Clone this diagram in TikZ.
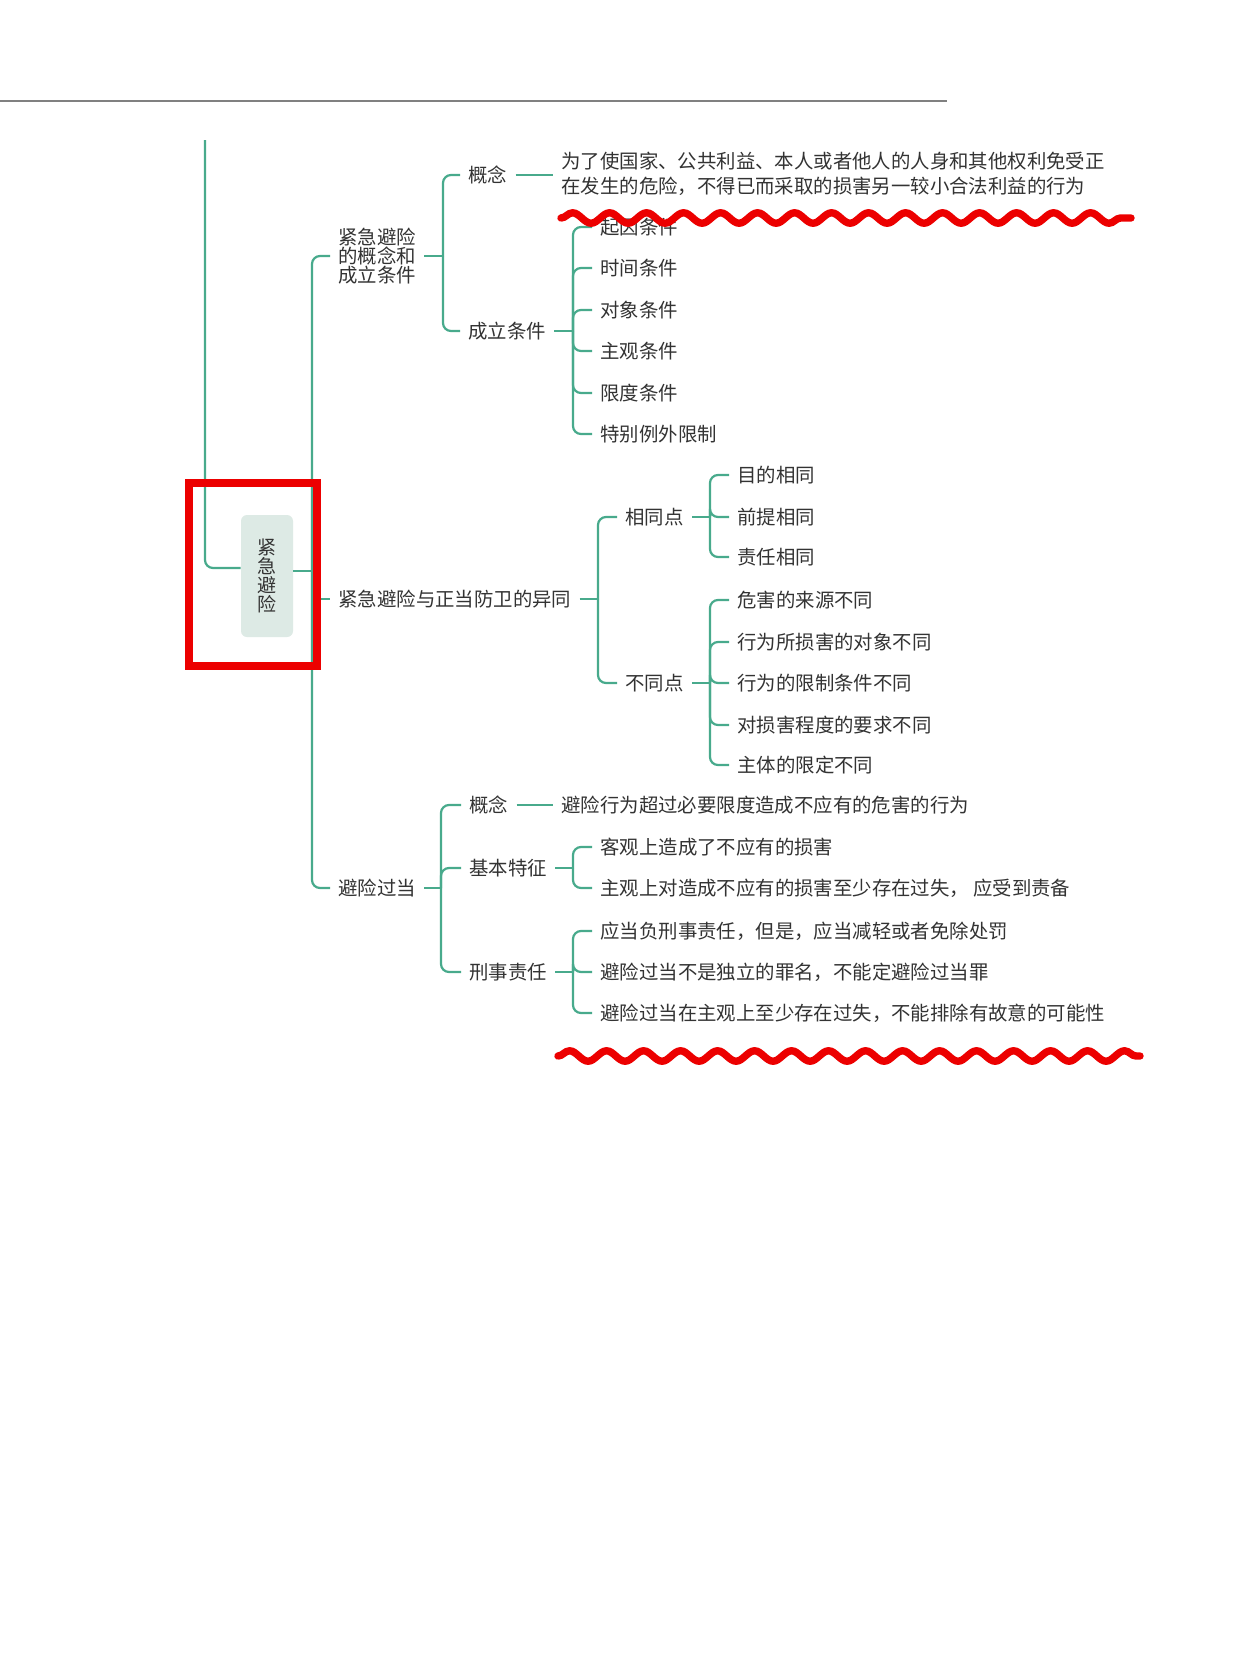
\documentclass[tikz,border=0pt]{standalone}
\usepackage{fontspec}
\newfontfamily\cjk{Noto Sans CJK SC}
\usetikzlibrary{decorations.pathmorphing}
\definecolor{teal1}{RGB}{72,170,140}
\definecolor{txt}{RGB}{51,51,51}
\definecolor{boxfill}{RGB}{221,234,229}
\definecolor{mark}{RGB}{236,0,0}
\definecolor{rulegray}{RGB}{128,128,128}
\begin{document}
\begin{tikzpicture}[x=0.5pt,y=-0.5pt,
  ln/.style={draw=teal1,line width=1.1pt,rounded corners=4pt},
  lbl/.style={anchor=west,inner xsep=4pt,inner ysep=1pt,text=txt,
    font=\cjk\fontsize{9.7pt}{12pt}\selectfont},
  multi/.style={align=left,execute at begin node={\lineskiplimit=-20pt}},
  rootbox/.style={fill=boxfill,rounded corners=3pt,minimum width=26pt,minimum height=61pt,
    inner sep=0pt,text=txt,align=center,font=\cjk\fontsize{9.5pt}{9.6pt}\selectfont,
    execute at begin node={\lineskiplimit=-20pt}},
  wave/.style={draw=mark,line width=3.7pt,line cap=round,decorate,
    decoration={snake,amplitude=2.6pt,segment length=18.5pt}},
  redframe/.style={draw=mark,line width=4pt}
]
\useasboundingbox (0,0) rectangle (1242,1660);
\fill[white] (0,0) rectangle (1242,1660);

% top rule
\draw[rulegray,line width=1.2pt] (0,101) -- (947,101);

% root
\node[rootbox] (root) at (267,576) {紧\\急\\避\\险};
\coordinate (lt) at (205,140);
\draw[ln] (lt) |- ([yshift=4pt]root.west);

% level 1
\coordinate (tj) at (312,571);
\draw[ln] (root.east |- tj) -- (tj);
\node[lbl,multi,font=\cjk\fontsize{9.7pt}{9.4pt}\selectfont] (b1) at (330,256) {紧急避险\\的概念和\\成立条件};
\node[lbl] (b2) at (330,599) {紧急避险与正当防卫的异同};
\node[lbl] (b3) at (330,888) {避险过当};
\draw[ln] (tj) |- (b1.west);
\draw[ln] (tj) |- (b3.west);
\draw[ln] (tj |- b2.west) -- (b2.west);

% branch 1
\coordinate (k1) at (443,256);
\node[lbl] (c1) at (460,175) {概念};
\node[lbl] (c2) at (460,331) {成立条件};
\draw[ln] (b1.east) -- (k1);
\draw[ln] (k1) |- (c1.west);
\draw[ln] (k1) |- (c2.west);
\node[lbl,multi,font=\cjk\fontsize{9.7pt}{12.2pt}\selectfont] (d1) at (553,174)
  {为了使国家、公共利益、本人或者他人的人身和其他权利免受正\\在发生的危险，不得已而采取的损害另一较小合法利益的行为};
\draw[ln] (c1.east) -- (c1.east -| d1.west);
\coordinate (k2) at (573,331);
\draw[ln] (c2.east) -- (k2);
\node[lbl] (e1) at (592,227) {起因条件};
\node[lbl] (e2) at (592,268) {时间条件};
\node[lbl] (e3) at (592,310) {对象条件};
\node[lbl] (e4) at (592,351) {主观条件};
\node[lbl] (e5) at (592,393) {限度条件};
\node[lbl] (e6) at (592,434) {特别例外限制};
\foreach \n in {e1,e2,e3,e4,e5,e6} \draw[ln] (k2) |- (\n.west);

% branch 2
\coordinate (k3) at (598,599);
\draw[ln] (b2.east) -- (k3);
\node[lbl] (f1) at (617,517) {相同点};
\node[lbl] (f2) at (617,683) {不同点};
\draw[ln] (k3) |- (f1.west);
\draw[ln] (k3) |- (f2.west);
\coordinate (k4) at (710,517);
\draw[ln] (f1.east) -- (k4);
\node[lbl] (g1) at (729,475) {目的相同};
\node[lbl] (g2) at (729,517) {前提相同};
\node[lbl] (g3) at (729,557) {责任相同};
\foreach \n in {g1,g2,g3} \draw[ln] (k4) |- (\n.west);
\coordinate (k5) at (710,683);
\draw[ln] (f2.east) -- (k5);
\node[lbl] (h1) at (729,600) {危害的来源不同};
\node[lbl] (h2) at (729,642) {行为所损害的对象不同};
\node[lbl] (h3) at (729,683) {行为的限制条件不同};
\node[lbl] (h4) at (729,725) {对损害程度的要求不同};
\node[lbl] (h5) at (729,765) {主体的限定不同};
\foreach \n in {h1,h2,h3,h4,h5} \draw[ln] (k5) |- (\n.west);

% branch 3
\coordinate (k6) at (441,888);
\draw[ln] (b3.east) -- (k6);
\node[lbl] (m1) at (461,805) {概念};
\node[lbl] (m2) at (461,868) {基本特征};
\node[lbl] (m3) at (461,972) {刑事责任};
\foreach \n in {m1,m2,m3} \draw[ln] (k6) |- (\n.west);
\node[lbl] (n0) at (553,805) {避险行为超过必要限度造成不应有的危害的行为};
\draw[ln] (m1.east) -- (n0.west);
\coordinate (k7) at (573,868);
\draw[ln] (m2.east) -- (k7);
\node[lbl] (n1) at (592,847) {客观上造成了不应有的损害};
\node[lbl] (n2) at (592,888) {主观上对造成不应有的损害至少存在过失， 应受到责备};
\foreach \n in {n1,n2} \draw[ln] (k7) |- (\n.west);
\coordinate (k8) at (573,972);
\draw[ln] (m3.east) -- (k8);
\node[lbl] (p1) at (592,931) {应当负刑事责任，但是，应当减轻或者免除处罚};
\node[lbl] (p2) at (592,972) {避险过当不是独立的罪名，不能定避险过当罪};
\node[lbl] (p3) at (592,1013) {避险过当在主观上至少存在过失，不能排除有故意的可能性};
\foreach \n in {p1,p2,p3} \draw[ln] (k8) |- (\n.west);

% red annotations
\draw[redframe] (189,483) rectangle (317,666);
\draw[wave] (561,218) -- (1131,218);
\draw[wave] (558,1056) -- (1140,1056);
\end{tikzpicture}
\end{document}
